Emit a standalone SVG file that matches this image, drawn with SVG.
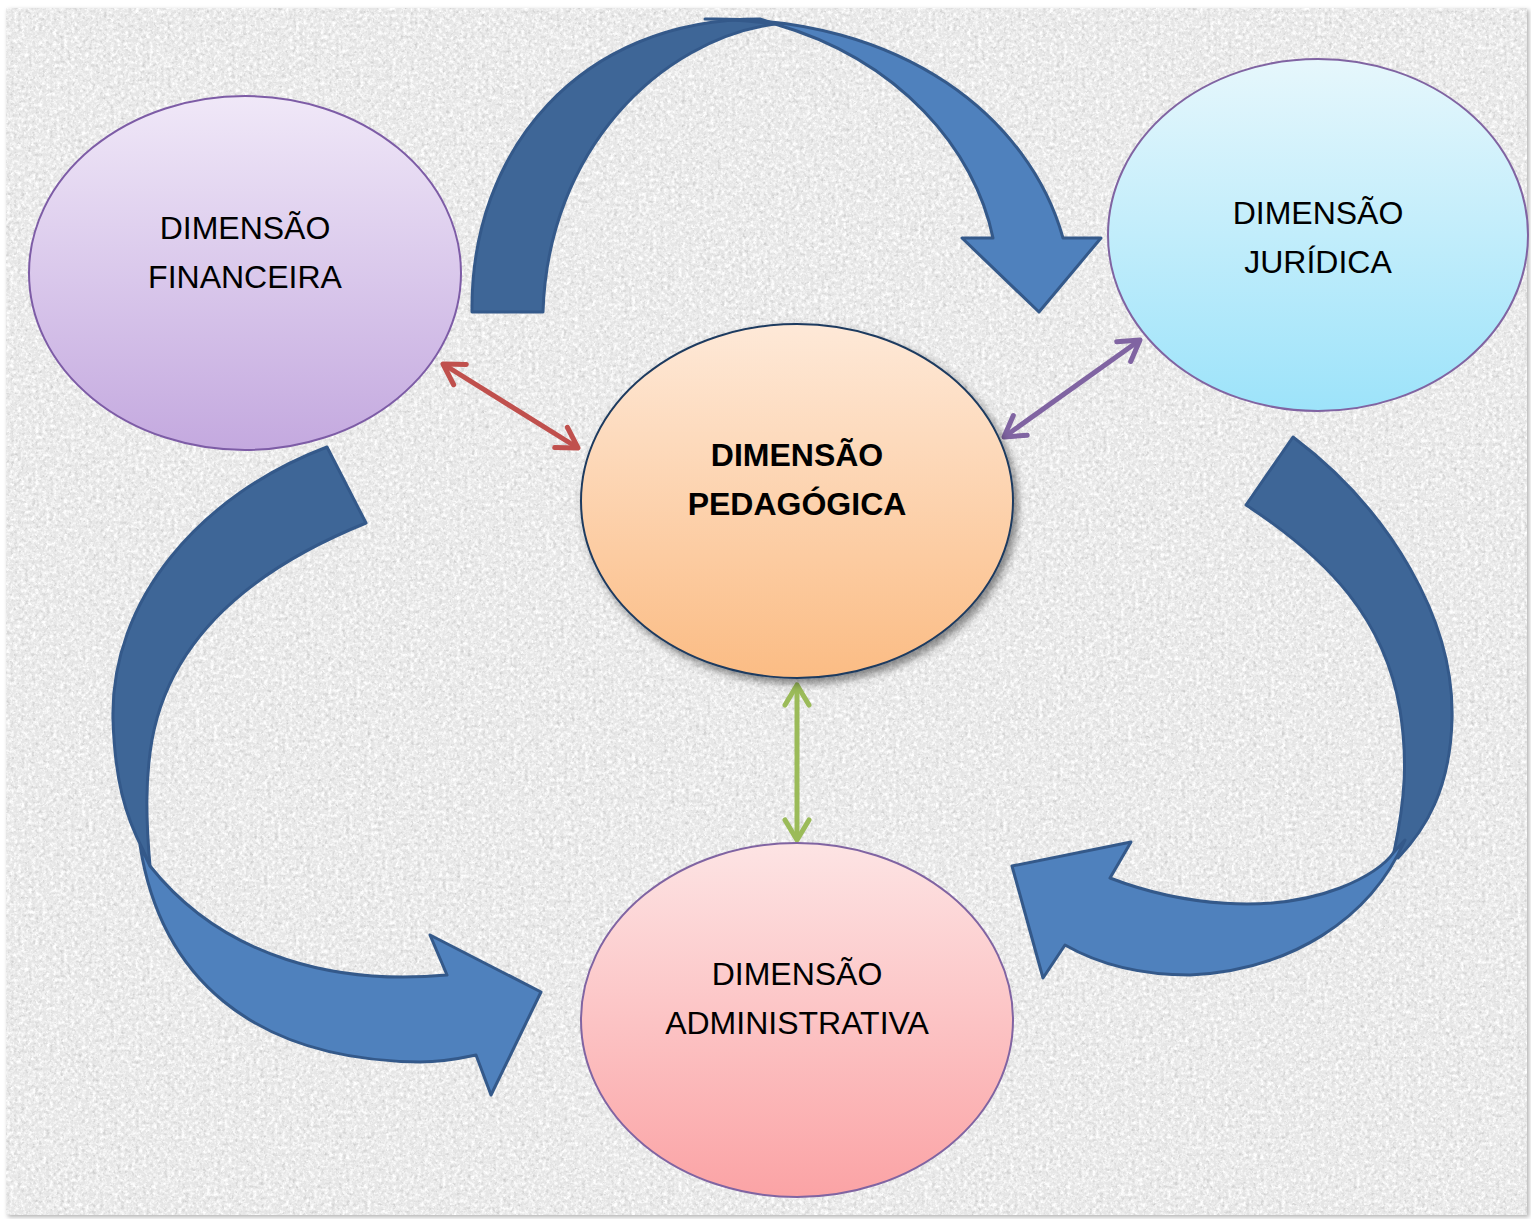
<svg xmlns="http://www.w3.org/2000/svg" width="1531" height="1219" viewBox="0 0 1531 1219">
<style>
.lbl{font-family:"Liberation Sans",Arial,sans-serif;font-size:32px;fill:#000;text-anchor:middle}
.bold{font-weight:bold}
.back{fill:#3e6697;stroke:#34598a;stroke-width:3;stroke-linejoin:round}
.front{fill:#4f81bd;stroke:#34598a;stroke-width:3;stroke-linejoin:round}
.dbl{fill:none;stroke-width:5}
</style>
<defs>
<filter id="noise" x="0" y="0" width="100%" height="100%">
<feTurbulence type="fractalNoise" baseFrequency="0.28" numOctaves="3" seed="7" result="t"/>
<feColorMatrix in="t" type="matrix" result="dark" values="0 0 0 0 0.6  0 0 0 0 0.6  0 0 0 0 0.6  2.6 0 0 0 -1.35"/>
<feColorMatrix in="t" type="matrix" result="light" values="0 0 0 0 1  0 0 0 0 1  0 0 0 0 1  0 -2.6 0 0 1.6"/>
<feMerge><feMergeNode in="light"/><feMergeNode in="dark"/></feMerge>
</filter>
<filter id="shadow" x="-10%" y="-10%" width="125%" height="125%">
<feDropShadow dx="4" dy="5" stdDeviation="4" flood-color="#000" flood-opacity="0.45"/>
</filter>
<filter id="frameShadow" x="-2%" y="-2%" width="104%" height="104%">
<feDropShadow dx="2" dy="2" stdDeviation="2" flood-color="#000" flood-opacity="0.3"/>
</filter>
<linearGradient id="gFin" x1="0" y1="0" x2="0" y2="1"><stop offset="0" stop-color="#f0e8f8"/><stop offset="1" stop-color="#c4a9df"/></linearGradient>
<linearGradient id="gJur" x1="0" y1="0" x2="0" y2="1"><stop offset="0" stop-color="#e6f7fc"/><stop offset="1" stop-color="#9de3fa"/></linearGradient>
<linearGradient id="gPed" x1="0" y1="0" x2="0" y2="1"><stop offset="0" stop-color="#fee9d8"/><stop offset="1" stop-color="#fbbc84"/></linearGradient>
<linearGradient id="gAdm" x1="0" y1="0" x2="0" y2="1"><stop offset="0" stop-color="#fde4e4"/><stop offset="1" stop-color="#fba3a5"/></linearGradient>
<marker id="mRed" viewBox="-26 -15 30 30" markerUnits="userSpaceOnUse" markerWidth="30" markerHeight="30" refX="0" refY="0" orient="auto-start-reverse"><path d="M-20,-12 L0,0 L-20,12" fill="none" stroke="#c0504d" stroke-width="5" stroke-linecap="round" stroke-linejoin="round"/></marker>
<marker id="mPur" viewBox="-26 -15 30 30" markerUnits="userSpaceOnUse" markerWidth="30" markerHeight="30" refX="0" refY="0" orient="auto-start-reverse"><path d="M-20,-12 L0,0 L-20,12" fill="none" stroke="#8064a2" stroke-width="5" stroke-linecap="round" stroke-linejoin="round"/></marker>
<marker id="mGrn" viewBox="-26 -15 30 30" markerUnits="userSpaceOnUse" markerWidth="30" markerHeight="30" refX="0" refY="0" orient="auto-start-reverse"><path d="M-20,-12 L0,0 L-20,12" fill="none" stroke="#9bbb59" stroke-width="5" stroke-linecap="round" stroke-linejoin="round"/></marker>
</defs>
<rect width="1531" height="1219" fill="#ffffff"/>
<rect x="6" y="8" width="1521" height="1207" fill="#e6e6e6" filter="url(#frameShadow)"/>
<rect x="6" y="8" width="1521" height="1207" filter="url(#noise)"/>

<g id="connectors">
<g id="arrow-top">
<path class="back" d="M472,312 C470,150 580,19 760,19 L775,24 C660,40 548,150 543,312 Z"/>
<path class="front" d="M705,19 C905,15 1030,120 1063,238 L1101,238 L1039,312 L962,238 L993,238 C975,150 900,60 775,24 C750,21 725,19 705,19 Z"/>
</g>
<g id="arrow-left">
<path class="back" d="M327,447 L366,523 C250,570 170,640 152,740 C145,780 146,820 150,866 L143,850 C125,815 115,780 113,720 C110,600 200,495 327,447 Z"/>
<path class="front" d="M140,845 C160,975 250,1060 420,1062 C445,1062 462,1058 476,1055 L491,1095 L541,992 L430,935 L447,975 C340,985 225,960 150,866 Z"/>
</g>
<g id="arrow-right">
<path class="back" d="M1293,437 C1390,510 1455,620 1452,720 C1450,790 1425,830 1398,858 L1394,852 C1405,800 1408,760 1400,710 C1385,620 1330,560 1246,505 Z"/>
<path class="front" d="M1405,840 C1370,920 1290,970 1190,975 C1140,975 1100,965 1065,945 L1043,978 L1012,866 L1131,842 L1110,878 C1180,905 1270,915 1340,888 C1365,878 1385,865 1394,852 Z"/>
</g>
<line class="dbl" x1="443" y1="364" x2="578" y2="448" stroke="#c0504d" marker-start="url(#mRed)" marker-end="url(#mRed)"/>
<line class="dbl" x1="1140" y1="340" x2="1004" y2="437" stroke="#8064a2" marker-start="url(#mPur)" marker-end="url(#mPur)"/>
<line class="dbl" x1="797" y1="685" x2="797" y2="840" stroke="#9bbb59" marker-start="url(#mGrn)" marker-end="url(#mGrn)"/>
</g>

<g id="node-financeira">
<ellipse cx="245" cy="273" rx="216" ry="177" fill="url(#gFin)" stroke="#7d5ca6" stroke-width="2"/>
<text class="lbl" x="245" y="239">DIMENSÃO</text>
<text class="lbl" x="245" y="288">FINANCEIRA</text>
</g>
<g id="node-juridica">
<ellipse cx="1318" cy="235" rx="210" ry="176" fill="url(#gJur)" stroke="#8064a2" stroke-width="2"/>
<text class="lbl" x="1318" y="224">DIMENSÃO</text>
<text class="lbl" x="1318" y="273">JURÍDICA</text>
</g>
<g id="node-pedagogica">
<ellipse cx="797" cy="501" rx="216" ry="177" fill="url(#gPed)" stroke="#1f3a5f" stroke-width="2" filter="url(#shadow)"/>
<text class="lbl bold" x="797" y="466">DIMENSÃO</text>
<text class="lbl bold" x="797" y="515">PEDAGÓGICA</text>
</g>
<g id="node-administrativa">
<ellipse cx="797" cy="1020" rx="216" ry="177" fill="url(#gAdm)" stroke="#8064a2" stroke-width="2"/>
<text class="lbl" x="797" y="985">DIMENSÃO</text>
<text class="lbl" x="797" y="1034">ADMINISTRATIVA</text>
</g>
</svg>
